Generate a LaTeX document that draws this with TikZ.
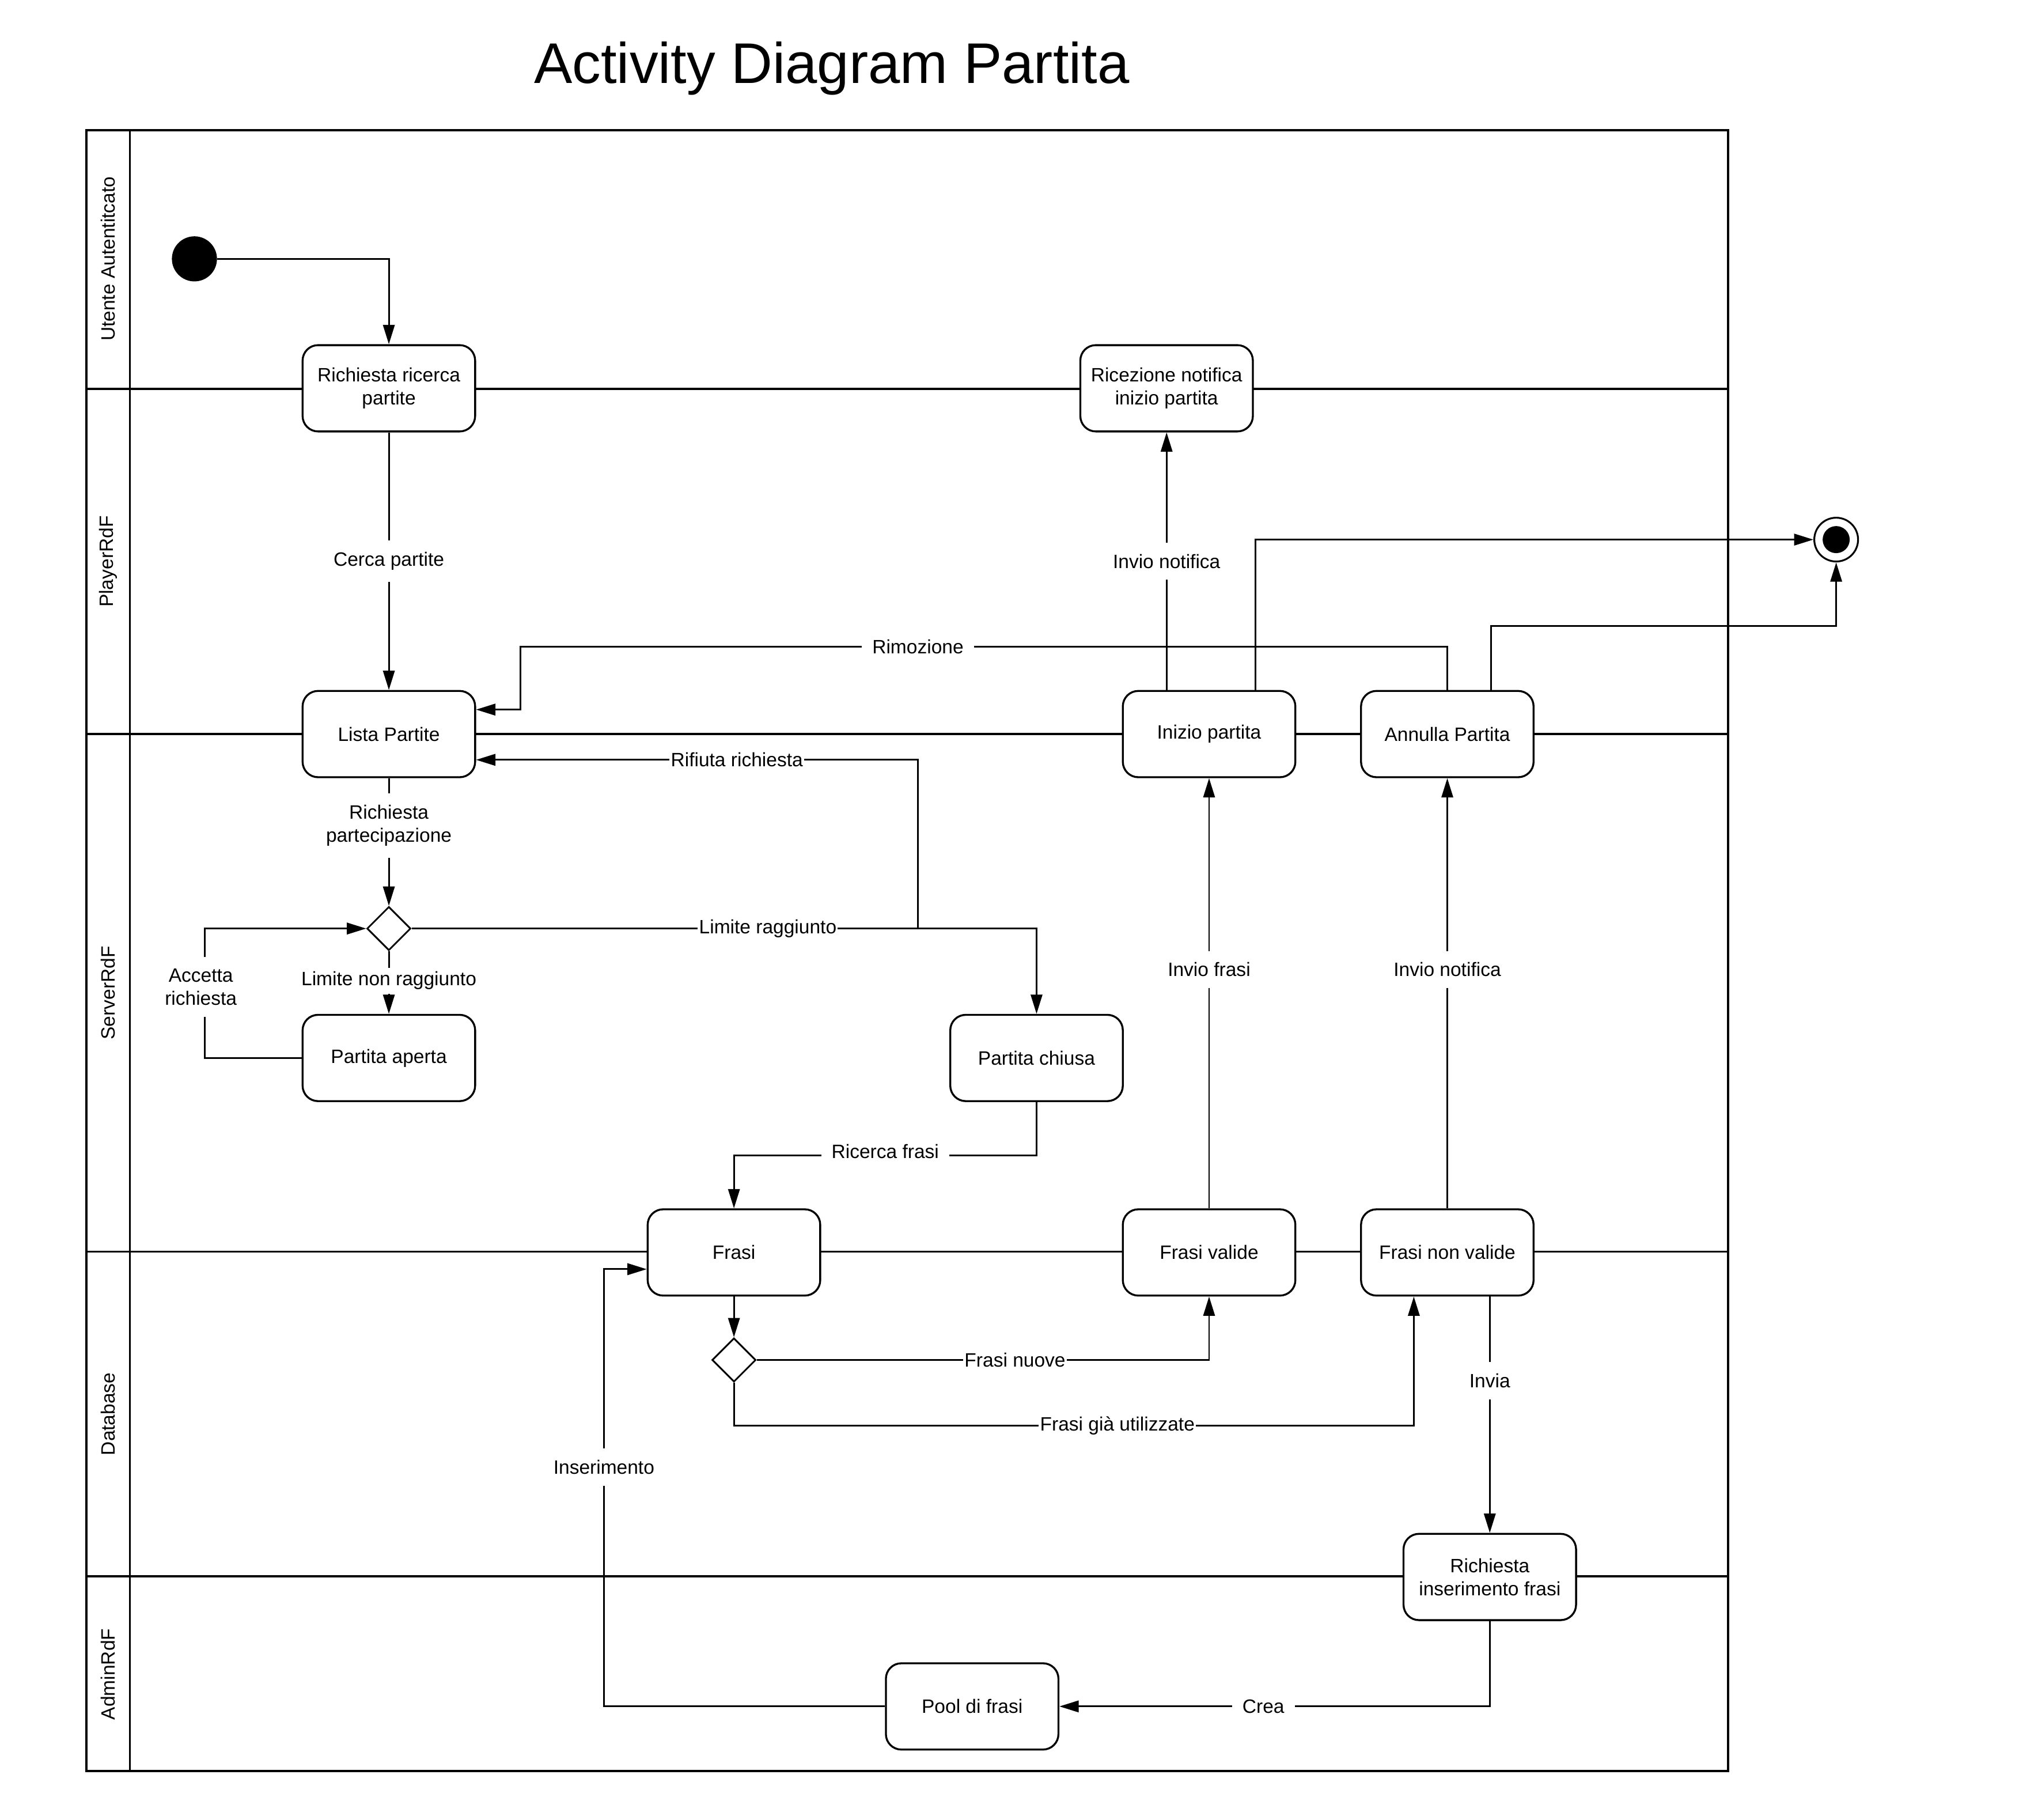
\documentclass[tikz,border=0pt]{standalone}
\usepackage{fontspec}
\setmainfont{Liberation Sans}
\usetikzlibrary{arrows.meta,shapes.geometric,calc}
\begin{document}
\begin{tikzpicture}[x=1pt,y=-1pt,
  every node/.style={font=\fontsize{15}{18}\selectfont},
  lane/.style={line width=1.5pt},
  act/.style={draw, line width=1.5pt, rounded corners=12pt, fill=white, minimum width=134pt, minimum height=67pt, align=center, inner sep=2pt},
  dec/.style={draw, diamond, line width=1.3pt, fill=white, minimum width=34pt, minimum height=34pt, inner sep=0pt, aspect=1},
  conn/.style={line width=1.3pt, -{Triangle[length=15pt,width=9pt]}},
  lbl/.style={fill=white, inner xsep=8pt, inner ysep=9pt, align=center},
  lbltight/.style={fill=white, inner sep=1pt},
]
\useasboundingbox (0,0) rectangle (1568,1413);
% pool and lanes
\draw[line width=1.8pt] (67,101) rectangle (1342,1375);
\draw[lane] (101,101) -- (101,1375);
\foreach \yy in {302,570,972,1224} \draw[lane] (67,\yy) -- (1342,\yy);
\node[rotate=90] (lu) at (84,201) {Utente Autentitcato};
\node[rotate=90] (lp) at (84,436) {PlayerRdF};
\node[rotate=90] (ls) at (84,771) {ServerRdF};
\node[rotate=90] (ld) at (84,1098) {Database};
\node[rotate=90] (la) at (84,1300) {AdminRdF};
% title
\node[font=\fontsize{44.5}{50}\selectfont] (title) at (646,53) {Activity Diagram Partita};
% nodes
\node[circle, fill=black, minimum size=35pt, inner sep=0pt] (start) at (151,201) {};
\node[circle, draw, line width=1.4pt, fill=white, minimum size=34pt, inner sep=0pt] (fin) at (1426,419) {};
\node[circle, fill=black, minimum size=21pt, inner sep=0pt] (fincore) at (1426,419) {};
\node[act] (n1) at (302,301.5) {Richiesta ricerca\\partite};
\node[act] (n2) at (906,301.5) {Ricezione notifica\\inizio partita};
\node[act] (n3) at (302,570) {Lista Partite};
\node[act] (n4) at (939,570) {Inizio partita};
\node[act] (n5) at (1124,570) {Annulla Partita};
\node[dec] (d1) at (302,721) {};
\node[act] (n6) at (302,821.5) {Partita aperta};
\node[act] (n7) at (805,821.5) {Partita chiusa};
\node[act] (n8) at (570,972.5) {Frasi};
\node[act] (n9) at (939,972.5) {Frasi valide};
\node[act] (n10) at (1124,972.5) {Frasi non valide};
\node[dec] (d2) at (570,1056) {};
\node[act] (n11) at (1157,1224.5) {Richiesta\\inserimento frasi};
\node[act] (n12) at (755,1325) {Pool di frasi};
% helper coordinates
\coordinate (jr) at (713,721);
\coordinate (n3r1) at ($(n3.east)+(0,20)$);
\coordinate (n3r2) at ($(n3.east)+(0,-19)$);
\coordinate (n4a) at ($(n4.north)+(-33,0)$);
\coordinate (n4b) at ($(n4.north)+(36,0)$);
\coordinate (n5b) at ($(n5.north)+(34,0)$);
\coordinate (n10a) at ($(n10.south)+(-26,0)$);
\coordinate (n10b) at ($(n10.south)+(33,0)$);
\coordinate (n8l) at ($(n8.west)+(0,13)$);
% connectors
\draw[conn] (start.east) -| (n1.north);
\draw[conn] (n1) -- node[lbl]{Cerca partite} (n3);
\draw[conn] (n3) -- node[lbl, pos=0.37]{Richiesta\\partecipazione} (d1);
\draw[conn] (d1) -- node[lbl, inner ysep=3pt, pos=0.47]{Limite non raggiunto} (n6);
\draw[conn] (n6.west) -- (159,821.5) -- node[lbl, pos=0.55, xshift=-3pt]{Accetta\\richiesta} (159,721) -- (d1.west);
\draw[conn] (d1.east) -- node[lbltight, pos=0.57]{Limite raggiunto} (805,721) -- (n7.north);
\draw[conn] (jr) |- node[lbltight, pos=0.705]{Rifiuta richiesta} (n3r1);
\draw[conn] (n7.south) -- (805,897) -- node[lbl, yshift=3pt]{Ricerca frasi} (570,897) -- (n8.north);
\draw[conn] (n8) -- (d2);
\draw[conn] (d2.east) -| node[lbltight, pos=0.2855]{Frasi nuove} (n9.south);
\draw[conn] (d2.south) -- (570,1107) -- node[lbltight, pos=0.564]{Frasi già utilizzate} (1098,1107) -- (n10a);
\draw[conn] (n9) -- node[lbl, pos=0.555]{Invio frasi} (n4);
\draw[conn] (n10) -- node[lbl, pos=0.555]{Invio notifica} (n5);
\draw[conn] (n4a) -- node[lbl]{Invio notifica} (n2.south);
\draw[conn] (n4b) |- (fin.west);
\draw[conn] (n5.north) -- (1124,502) -- node[lbl, pos=0.571]{Rimozione} (404,502) -- (404,551) -- (n3r2);
\draw[conn] (n5b) -- (1158,486) -| (fin.south);
\draw[conn] (n10b) -- node[lbl, pos=0.357]{Invia} (n11.north);
\draw[conn] (n11.south) |- node[lbl, pos=0.763]{Crea} (n12.east);
\draw[conn] (n12.west) -- (469,1325) -- node[lbl, pos=0.547]{Inserimento} (469,985.5) -- (n8l);
\end{tikzpicture}
\end{document}
